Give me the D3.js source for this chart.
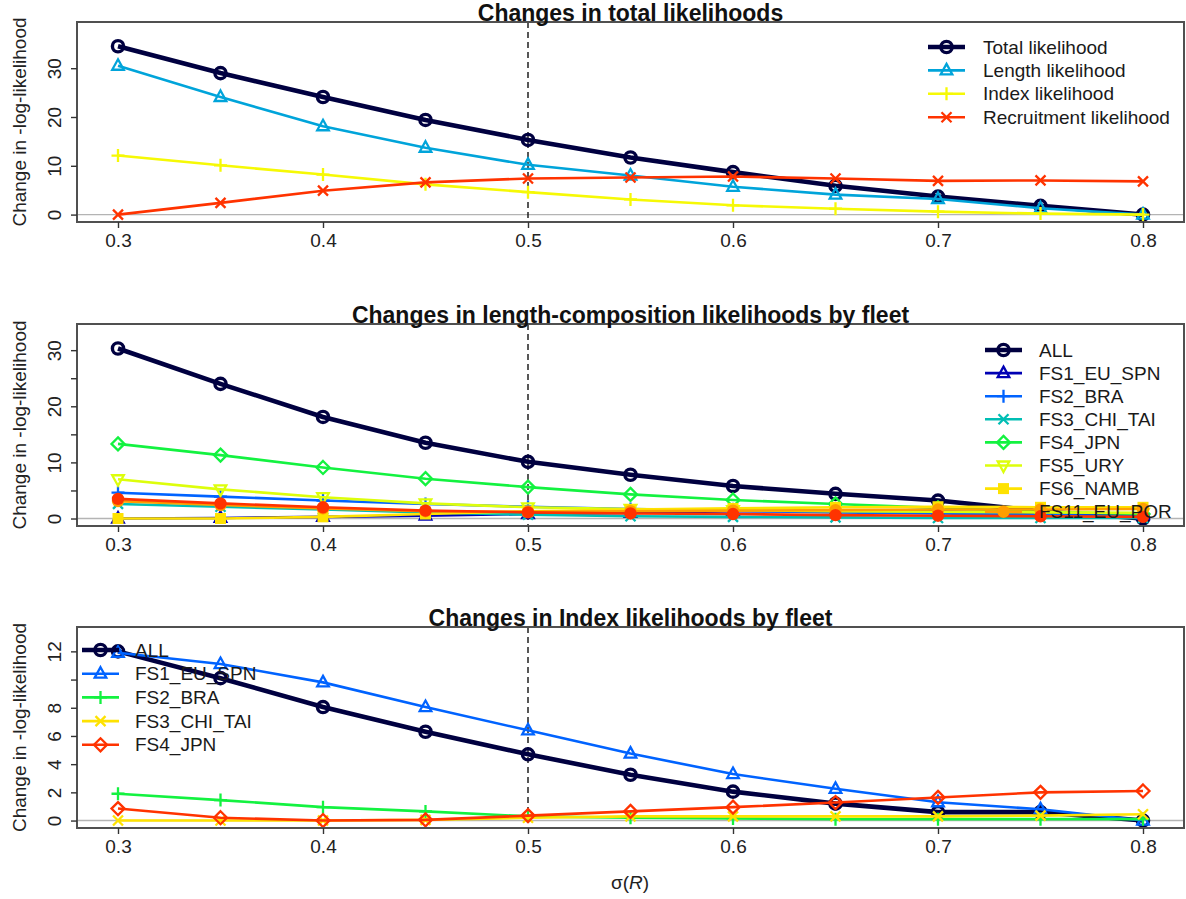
<!DOCTYPE html>
<html><head><meta charset="utf-8">
<script src="https://cdn.jsdelivr.net/npm/d3@7"></script>
<style>
html,body{margin:0;padding:0;background:#fff;}
svg{display:block;font-family:"Liberation Sans",Arial,sans-serif;}
</style></head>
<body><svg id="chart" width="1186" height="899"></svg>
<script>
// ---------------- DATA ----------------
const sigmaR = [0.3, 0.35, 0.4, 0.45, 0.5, 0.55, 0.6, 0.65, 0.7, 0.75, 0.8];
const xTicks = [0.3, 0.4, 0.5, 0.6, 0.7, 0.8];

// Panel 1: total likelihoods
const totalNames = ["Total likelihood", "Length likelihood", "Index likelihood", "Recruitment likelihood"];
const totalLik       = [34.5, 29.0, 24.1, 19.4, 15.3, 11.7, 8.7, 5.9, 3.7, 1.8, 0];
const lengthLik      = [30.5, 24.1, 18.1, 13.7, 10.2, 8.0, 5.7, 4.1, 3.2, 1.3, 0];
const indexLik       = [12.1, 10.1, 8.2, 6.2, 4.6, 3.1, 1.9, 1.2, 0.6, 0.2, 0];
const recruitLik     = [0, 2.4, 4.9, 6.6, 7.4, 7.6, 7.8, 7.4, 6.9, 7.0, 6.8];
const totalTicks = [0, 10, 20, 30];
const totalTickLabels = ["0", "10", "20", "30"];

// Panel 2: length-composition likelihoods by fleet
const lenNames = ["ALL", "FS1_EU_SPN", "FS2_BRA", "FS3_CHI_TAI", "FS4_JPN", "FS5_URY", "FS6_NAMB", "FS11_EU_POR"];
const lenALL   = [30.3, 24.0, 18.1, 13.5, 10.1, 7.8, 5.8, 4.4, 3.2, 1.3, 0];
const lenFS1   = [0, 0.1, 0.3, 0.5, 0.8, 1.0, 1.3, 1.3, 1.3, 0.9, 0.6];
const lenFS2   = [4.6, 3.9, 3.2, 2.6, 2.1, 1.7, 1.4, 1.1, 0.9, 0.6, 0.4];
const lenFS3   = [2.6, 2.1, 1.6, 1.1, 0.7, 0.4, 0.3, 0.2, 0.1, 0.1, 0.1];
const lenFS4   = [13.3, 11.3, 9.1, 7.1, 5.6, 4.3, 3.3, 2.6, 1.9, 1.2, 0.8];
const lenFS5   = [7.0, 5.2, 3.8, 2.7, 2.0, 1.7, 1.5, 1.3, 1.2, 1.1, 1.0];
const lenFS6   = [0, 0, 0.3, 0.8, 1.3, 1.6, 1.8, 2.0, 2.1, 2.0, 2.0];
const lenFS11  = [3.1, 2.4, 1.8, 1.3, 1.2, 1.3, 1.4, 1.5, 1.6, 1.6, 1.7];
const lenExtra = [3.5, 2.7, 2.0, 1.4, 1.1, 0.9, 0.8, 0.6, 0.5, 0.4, 0.3]; // legend entry clipped in source
const lenTicks = [0, 5, 10, 15, 20, 25, 30];
const lenTickLabels = ["0", "", "10", "", "20", "", "30"];

// Panel 3: index likelihoods by fleet
const idxNames = ["ALL", "FS1_EU_SPN", "FS2_BRA", "FS3_CHI_TAI", "FS4_JPN"];
const idxALL = [12.0, 10.1, 8.05, 6.3, 4.7, 3.25, 2.05, 1.2, 0.6, 0.6, 0];
const idxFS1 = [11.9, 11.1, 9.8, 8.05, 6.4, 4.75, 3.3, 2.25, 1.3, 0.8, 0];
const idxFS2 = [1.9, 1.45, 0.95, 0.65, 0.3, 0.2, 0.15, 0.1, 0.1, 0.1, 0.1];
const idxFS3 = [0, 0, 0, 0.05, 0.2, 0.3, 0.3, 0.3, 0.3, 0.35, 0.45];
const idxFS4 = [0.85, 0.2, 0, 0.05, 0.35, 0.65, 0.95, 1.28, 1.64, 2.0, 2.1];
const idxTicks = [0, 2, 4, 6, 8, 10, 12];
const idxTickLabels = ["0", "2", "4", "6", "8", "", "12"];

const titles = ["Changes in total likelihoods", "Changes in length-composition likelihoods by fleet", "Changes in Index likelihoods by fleet"];
const yLabel = "Change in -log-likelihood";
const refSigma = 0.5;

// ---------------- STYLE ----------------
const navy = "#000040";
const panels = [
  { top: 22, bottom: 222, names: totalNames, ticks: totalTicks, tickLabels: totalTickLabels,
    series: [
      { v: totalLik, c: navy, pch: "circle", lw: 4.6, leg: 0 },
      { v: lengthLik, c: "#00A4DA", pch: "tri", lw: 2.6, leg: 1 },
      { v: indexLik, c: "#F6F905", pch: "plus", lw: 2.6, leg: 2 },
      { v: recruitLik, c: "#FF3300", pch: "x", lw: 2.6, leg: 3 }],
    legend: { lineX: 928, textX: 983, y0: 47, dy: 23.4 } },
  { top: 324, bottom: 526, names: lenNames, ticks: lenTicks, tickLabels: lenTickLabels,
    series: [
      { v: lenALL, c: navy, pch: "circle", lw: 4.6, leg: 0 },
      { v: lenFS1, c: "#0000B4", pch: "tri", lw: 2.6, leg: 1 },
      { v: lenFS2, c: "#0063FF", pch: "plus", lw: 2.6, leg: 2 },
      { v: lenFS3, c: "#00BEB4", pch: "x", lw: 2.6, leg: 3 },
      { v: lenFS4, c: "#13F240", pch: "diamond", lw: 2.6, leg: 4 },
      { v: lenFS5, c: "#DDFE0B", pch: "trid", lw: 2.6, leg: 5 },
      { v: lenFS6, c: "#FEE201", pch: "square", lw: 2.6, leg: 6 },
      { v: lenFS11, c: "#FF9E00", pch: "dot", lw: 2.6, leg: 7 },
      { v: lenExtra, c: "#FF3300", pch: "dot", lw: 2.6, leg: -1 }],
    legend: { lineX: 985, textX: 1039, y0: 350, dy: 23.1 } },
  { top: 627, bottom: 828, names: idxNames, ticks: idxTicks, tickLabels: idxTickLabels,
    series: [
      { v: idxALL, c: navy, pch: "circle", lw: 4.6, leg: 0 },
      { v: idxFS1, c: "#0063FF", pch: "tri", lw: 2.6, leg: 1 },
      { v: idxFS2, c: "#13F240", pch: "plus", lw: 2.6, leg: 2 },
      { v: idxFS3, c: "#FEE201", pch: "x", lw: 2.6, leg: 3 },
      { v: idxFS4, c: "#FF3300", pch: "diamond", lw: 2.6, leg: 4 }],
    legend: { lineX: 82, textX: 135, y0: 650, dy: 23.7 } }
];

const svg = d3.select("#chart");
const x = d3.scaleLinear().domain([0.28, 0.82]).range([77, 1184]);
const FS = 19;

function marker(g, pch, cx, cy, color, big) {
  const sw = big ? 3.4 : 2.3;
  if (pch === "circle") g.append("circle").attr("cx", cx).attr("cy", cy).attr("r", 5.6).attr("fill", "none").attr("stroke", color).attr("stroke-width", sw);
  else if (pch === "tri") g.append("path").attr("d", `M${cx},${cy-6.5}L${cx+5.8},${cy+4}L${cx-5.8},${cy+4}Z`).attr("fill", "none").attr("stroke", color).attr("stroke-width", sw);
  else if (pch === "trid") g.append("path").attr("d", `M${cx},${cy+6.5}L${cx+5.8},${cy-4}L${cx-5.8},${cy-4}Z`).attr("fill", "none").attr("stroke", color).attr("stroke-width", sw);
  else if (pch === "plus") g.append("path").attr("d", `M${cx-6.5},${cy}H${cx+6.5}M${cx},${cy-6.5}V${cy+6.5}`).attr("stroke", color).attr("stroke-width", sw);
  else if (pch === "x") g.append("path").attr("d", `M${cx-5},${cy-5}L${cx+5},${cy+5}M${cx-5},${cy+5}L${cx+5},${cy-5}`).attr("stroke", color).attr("stroke-width", sw);
  else if (pch === "diamond") g.append("path").attr("d", `M${cx},${cy-6.5}L${cx+6.5},${cy}L${cx},${cy+6.5}L${cx-6.5},${cy}Z`).attr("fill", "none").attr("stroke", color).attr("stroke-width", sw);
  else if (pch === "square") g.append("rect").attr("x", cx-5.5).attr("y", cy-5.5).attr("width", 11).attr("height", 11).attr("fill", color);
  else if (pch === "dot") g.append("circle").attr("cx", cx).attr("cy", cy).attr("r", 6.2).attr("fill", color);
}

panels.forEach((p, pi) => {
  const allVals = p.series.flatMap(s => s.v);
  const ymax = 1.1 * d3.max(allVals);
  const pad = 0.04 * ymax;
  const y = d3.scaleLinear().domain([-pad, ymax + pad]).range([p.bottom, p.top]);
  const g = svg.append("g");
  const clipId = "clip" + pi;
  svg.append("clipPath").attr("id", clipId).append("rect")
    .attr("x", 77).attr("y", p.top).attr("width", 1184 - 77).attr("height", p.bottom - p.top);

  // zero line
  g.append("line").attr("x1", 77).attr("x2", 1184).attr("y1", y(0)).attr("y2", y(0))
    .attr("stroke", "#b4b4b4").attr("stroke-width", 1.4);
  // reference dashed line
  g.append("line").attr("x1", x(refSigma)).attr("x2", x(refSigma)).attr("y1", p.top).attr("y2", p.bottom)
    .attr("stroke", "#111").attr("stroke-width", 1.4).attr("stroke-dasharray", "6,4");

  const plot = g.append("g").attr("clip-path", `url(#${clipId})`);
  const line = d3.line().x((d, i) => x(sigmaR[i])).y(d => y(d));
  p.series.forEach(s => {
    plot.append("path").datum(s.v).attr("d", line).attr("fill", "none")
      .attr("stroke", s.c).attr("stroke-width", s.lw).attr("stroke-linejoin", "round");
    s.v.forEach((d, i) => marker(plot, s.pch, x(sigmaR[i]), y(d), s.c, s.lw > 3));
  });

  // legend (clipped to plot region as in source)
  const lg = plot.append("g");
  p.series.filter(s => s.leg >= 0).forEach(s => {
    const ly = p.legend.y0 + s.leg * p.legend.dy;
    lg.append("line").attr("x1", p.legend.lineX).attr("x2", p.legend.lineX + 37).attr("y1", ly).attr("y2", ly)
      .attr("stroke", s.c).attr("stroke-width", s.lw);
    marker(lg, s.pch, p.legend.lineX + 18.5, ly, s.c, s.lw > 3);
    lg.append("text").attr("x", p.legend.textX).attr("y", ly).attr("dy", "0.35em")
      .attr("font-size", FS).attr("fill", "#1a1a1a").text(p.names[s.leg]);
  });

  // box
  g.append("rect").attr("x", 77).attr("y", p.top).attr("width", 1184 - 77).attr("height", p.bottom - p.top)
    .attr("fill", "none").attr("stroke", "#505050").attr("stroke-width", 2);

  // x axis
  const xa = g.append("g").attr("transform", `translate(0,${p.bottom})`)
    .call(d3.axisBottom(x).tickValues(xTicks).tickFormat(d3.format(".1f")).tickSize(6).tickPadding(6));
  xa.select(".domain").remove();
  xa.selectAll("line").attr("stroke", "#333").attr("stroke-width", 1.4);
  xa.selectAll("text").attr("font-size", FS).attr("fill", "#222").attr("font-family", "Liberation Sans, Arial, sans-serif");

  // y axis
  const ya = g.append("g").attr("transform", "translate(77,0)")
    .call(d3.axisLeft(y).tickValues(p.ticks).tickFormat((d, i) => p.tickLabels[i]).tickSize(6).tickPadding(0));
  ya.select(".domain").remove();
  ya.selectAll("line").attr("stroke", "#333").attr("stroke-width", 1.4);
  ya.selectAll("text").attr("font-size", FS).attr("fill", "#222").attr("font-family", "Liberation Sans, Arial, sans-serif")
    .attr("text-anchor", "middle").attr("x", null).attr("dy", null)
    .attr("transform", "translate(-16,0) rotate(-90)");

  // y label
  svg.append("text").attr("transform", `translate(26,${(p.top + p.bottom) / 2}) rotate(-90)`)
    .attr("text-anchor", "middle").attr("font-size", FS).attr("fill", "#222").text(yLabel);

  // title
  svg.append("text").attr("x", (77 + 1184) / 2).attr("y", p.top - 1).attr("text-anchor", "middle")
    .attr("font-size", 23).attr("font-weight", "bold").attr("fill", "#111").text(titles[pi]);
});

// x axis title
const xt = svg.append("text").attr("x", 630).attr("y", 889).attr("text-anchor", "middle").attr("font-size", FS).attr("fill", "#222");
xt.append("tspan").text("σ(");
xt.append("tspan").attr("font-style", "italic").text("R");
xt.append("tspan").text(")");
</script></body></html>
